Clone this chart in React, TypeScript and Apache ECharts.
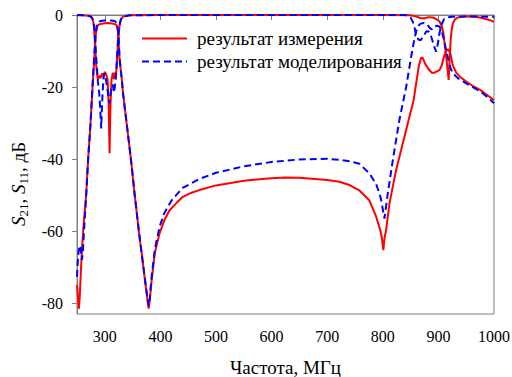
import React, { useEffect, useRef } from "react";
import * as echarts from "echarts";

// Frequency (MHz) and level (dB) pairs
const measS21: [number, number][] = [
  [250, -75], [252, -79], [253.5, -81.5], [255, -78], [257, -71], [259, -65], [262, -58],
  [266.7, -49.5], [270, -40], [274, -31], [278, -20], [281, -12.5], [284, -5], [287, -3],
  [290, -2.6], [295, -2.4], [300, -2.3], [305, -2.2], [310, -2.3], [315, -2.4], [319, -2.6],
  [322, -3], [324, -5], [326.6, -12.5], [330, -17], [333, -22], [340, -31], [347, -40],
  [353.5, -49.5], [362, -61], [367, -67], [371.5, -72.7], [375, -77], [377.5, -80], [379, -81.5],
  [381, -79], [384, -74], [390, -66], [398.5, -60.6], [407, -57], [416.5, -54.2], [430, -52],
  [440, -50.5], [455, -49.4], [470, -48.6], [500, -47.3], [550, -46], [600, -45.3], [625, -45.1],
  [650, -45.2], [700, -45.8], [722, -46.3], [740, -47.2], [758, -48.7], [776, -51.5], [788, -56],
  [795, -59.5], [798, -61.5], [801, -65.3], [803, -62], [806, -59.7], [812, -52.3], [824, -43],
  [836, -35.6], [848, -28.2], [855, -24], [860, -19], [865, -14], [869, -11.8], [872, -12],
  [876, -13.5], [882, -15], [888, -16], [893, -16], [898, -15.6], [902, -15.3], [906, -14],
  [910, -11.5], [914, -10], [918, -9.5], [922, -11], [926, -14], [932, -16], [940, -17.3],
  [950, -18.5], [960, -19.5], [975, -20.8], [990, -22.5], [1000, -23.6],
];

const measS11: [number, number][] = [
  [250, -0.1], [260, -0.1], [270, -0.2], [275, -0.4], [278, -1], [280.5, -3], [282.5, -8],
  [284.5, -14], [287, -17.5], [289, -17.6], [291, -16.8], [293, -17.5], [295.5, -16.2],
  [297.5, -17], [300, -15.8], [302.5, -16.5], [305, -18], [307, -25], [308.6, -38.4], [310, -26],
  [312, -18], [314.6, -16], [316.5, -17.8], [318.5, -16.2], [320.5, -15.8], [322.5, -11],
  [324.5, -6], [326.5, -3], [329, -1.2], [333, -0.4], [345, -0.1], [400, 0], [600, 0], [800, 0],
  [850, -0.1], [860, -0.4], [868, -0.9], [875, -0.9], [882, -0.6], [890, -0.7], [897, -1.2],
  [902, -1.8], [906, -3], [909, -5], [912, -9], [915, -13], [917, -16], [918.5, -18], [920, -13],
  [922, -7], [924, -4], [926, -2.3], [930, -1.2], [935, -0.7], [945, -0.4], [960, -0.4],
  [975, -0.7], [990, -1.3], [1000, -1.9],
];

const simS21: [number, number][] = [
  [250, -72.7], [252, -67], [254, -64.5], [256, -64], [257.5, -66], [258.8, -68], [260.5, -66],
  [263, -59], [266.7, -49.5], [270, -40], [274, -31], [278, -19.5], [281, -11], [283.5, -5],
  [286, -2.5], [290, -1.8], [295, -1.6], [300, -1.5], [305, -1.5], [310, -1.5], [315, -1.6],
  [319, -1.8], [322, -2.5], [324.5, -5], [326.6, -12], [330, -17], [333, -22], [340, -31],
  [347, -40], [353.5, -49.5], [362, -61], [367, -67], [371.5, -72.5], [375, -76.5], [377.5, -79.5],
  [379, -80.8], [381, -78.5], [384, -73], [390, -65], [398.5, -58.8], [407, -55], [420, -51.5],
  [440, -48], [470, -45.5], [500, -43.8], [550, -42], [600, -40.8], [650, -40.1], [700, -39.9],
  [722, -40.2], [740, -40.6], [758, -41.3], [776, -44], [788, -47], [794, -49.5], [798, -52],
  [800, -54], [803, -56.5], [806, -53], [809, -49.5], [818, -40.3], [830, -29], [842, -20],
  [851, -11.6], [857, -6.5], [860, -4.5], [864, -3], [868, -2.4], [874, -2.2], [880, -2.6],
  [884, -3.5], [888, -4], [892, -3.2], [897, -3], [902, -3.2], [906, -4.5], [910, -7],
  [914, -9.7], [918, -12.5], [922, -14.8], [926, -16.2], [935, -17.5], [950, -19], [965, -20.3],
  [980, -21.8], [990, -23], [1000, -24.5],
];

const simS11: [number, number][] = [
  [250, 0], [265, -0.1], [272, -0.3], [276, -0.6], [279, -1.5], [281, -3.5], [283, -8],
  [285.5, -14], [287.6, -18.5], [289.5, -21], [290.6, -23], [292, -27], [293.6, -31.5], [295, -25],
  [296.6, -20], [298, -17], [299.6, -16.2], [301, -17], [302.6, -18.5], [304, -20], [305.6, -21.6],
  [307, -23], [308.5, -24.5], [310, -22.5], [311.5, -20.5], [313, -19.5], [314.6, -19.4],
  [316.4, -21.6], [318, -20], [319.6, -18], [321, -15], [322.5, -10.5], [324, -6], [326, -3],
  [329, -1.2], [333, -0.4], [345, -0.1], [400, 0], [600, 0], [840, 0], [845, -0.2], [850, -0.7],
  [854, -1.9], [857, -3.5], [860, -5.5], [864, -6.8], [868, -7], [873, -6], [878, -4.6],
  [882, -4.5], [886, -5.5], [890, -7.5], [893, -9], [896, -10.2], [899, -8], [902, -5],
  [906, -2.5], [910, -1.2], [915, -0.7], [925, -0.5], [950, -0.4], [1000, -0.5],
];

const xTicks = [300, 400, 500, 600, 700, 800, 900, 1000];
const yTicks = [-80, -60, -40, -20, 0];
const legendNames = ["результат измерения", "результат моделирования"];

const SERIF = "Liberation Serif";

export default function App() {
  const ref = useRef<HTMLDivElement>(null);
  useEffect(() => {
    if (!ref.current) return;
    const chart = echarts.init(ref.current, null, { renderer: "svg" });
    const red = "#ff0000";
    const blue = "#0000ff";
    const mk = (name: string, data: [number, number][], color: string, dashed: boolean, z: number) => ({
      type: "line",
      name,
      data,
      symbol: "none",
      showSymbol: false,
      z,
      itemStyle: { color },
      lineStyle: { color, width: 2, type: dashed ? [7, 4] : "solid" },
    });
    chart.setOption({
      animation: false,
      backgroundColor: "#ffffff",
      textStyle: { fontFamily: SERIF },
      grid: {
        left: 77, right: 18, top: 15, bottom: 63,
        containLabel: false,
        outerBoundsMode: "none",
        show: true, borderColor: "#7f7f7f", borderWidth: 1, backgroundColor: "transparent",
      },
      legend: {
        data: legendNames,
        orient: "vertical",
        left: 141,
        top: 29,
        padding: 0,
        itemWidth: 45,
        itemHeight: 14,
        itemGap: 4,
        itemStyle: { opacity: 0 },
        textStyle: { fontFamily: SERIF, fontSize: 19, color: "#000", padding: [0, 0, 0, 5] },
      },
      xAxis: {
        type: "value",
        min: 250,
        max: 1000,
        name: "Частота, МГц",
        nameLocation: "middle",
        nameGap: 44,
        nameMoveOverlap: false,
        nameTextStyle: { fontFamily: SERIF, fontSize: 19, color: "#000" },
        axisLine: { show: true, lineStyle: { color: "#7f7f7f", width: 1 } },
        axisTick: { show: true, inside: false, length: 5, customValues: xTicks, lineStyle: { color: "#7f7f7f" } },
        axisLabel: {
          customValues: xTicks, fontFamily: SERIF, fontSize: 16, color: "#000", margin: 14,
          formatter: (v: number) => String(v),
        },
        splitLine: { show: false },
      },
      yAxis: {
        type: "value",
        min: -83,
        max: 0,
        axisLine: { show: true, lineStyle: { color: "#7f7f7f", width: 1 } },
        axisTick: { show: true, inside: false, length: 5, customValues: yTicks, lineStyle: { color: "#7f7f7f" } },
        axisLabel: {
          customValues: yTicks, fontFamily: SERIF, fontSize: 16, color: "#000", margin: 14,
          formatter: (v: number) => String(v),
        },
        splitLine: { show: false },
      },
      graphic: [
        {
          type: "text",
          x: 18,
          y: 184,
          rotation: Math.PI / 2,
          style: {
            text: "{i|S}{s|21}{n|, }{i|S}{s|11}{n|, дБ}",
            align: "center",
            verticalAlign: "middle",
            fill: "#000",
            rich: {
              i: { fontFamily: SERIF, fontSize: 19, fontStyle: "italic", lineHeight: 24, fill: "#000" },
              n: { fontFamily: SERIF, fontSize: 19, lineHeight: 24, fill: "#000" },
              s: { fontFamily: SERIF, fontSize: 13, lineHeight: 13, verticalAlign: "bottom", fill: "#000" },
            },
          },
        },
      ],
      series: [
        mk(legendNames[0], measS21, red, false, 2),
        mk(legendNames[0], measS11, red, false, 2),
        mk(legendNames[1], simS21, blue, true, 3),
        mk(legendNames[1], simS11, blue, true, 3),
      ],
    });
    return () => chart.dispose();
  }, []);
  return <div ref={ref} style={{ position: "fixed", left: 0, top: 0, width: 512, height: 377 }} />;
}
